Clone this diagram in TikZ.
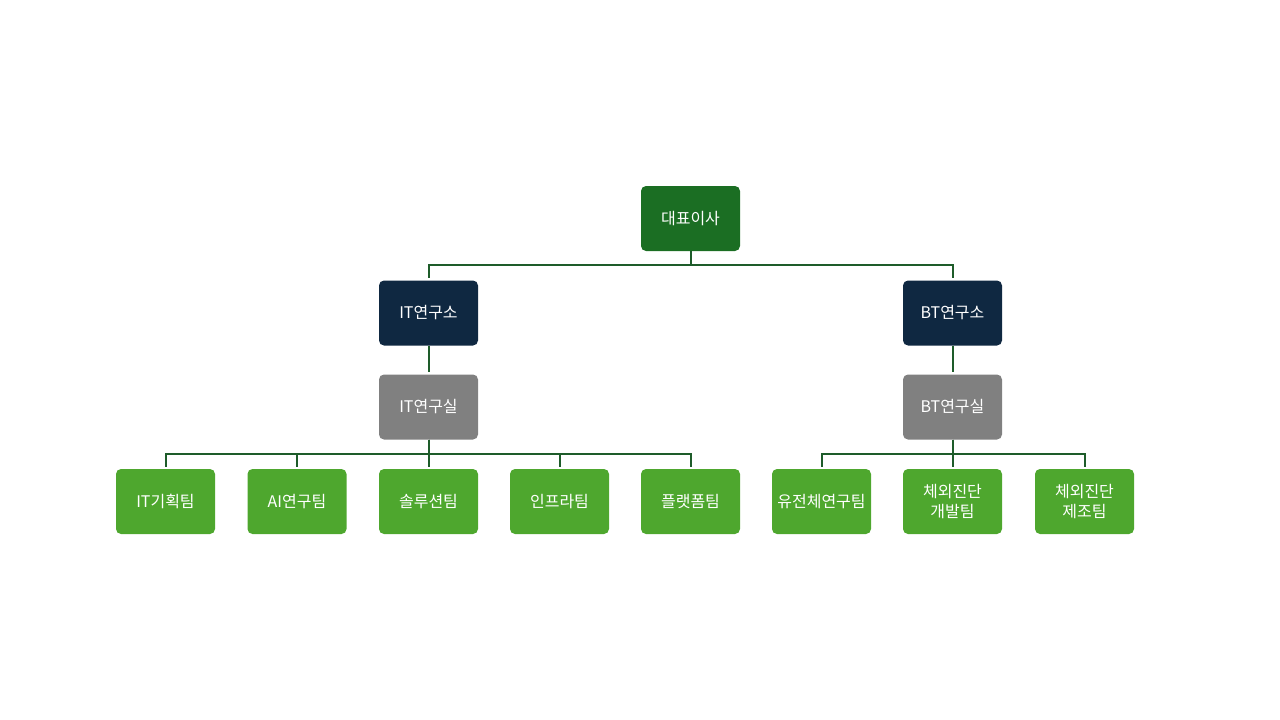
\documentclass[tikz,border=0pt]{standalone}
\usepackage{fontspec}
\setmainfont{Noto Sans CJK KR}
\definecolor{topgreen}{HTML}{1B6E23}
\definecolor{navy}{HTML}{0F2841}
\definecolor{midgray}{HTML}{808080}
\definecolor{leafgreen}{HTML}{4EA72E}
\definecolor{linegreen}{HTML}{1E5C2A}
\tikzset{
  box/.style={rounded corners=5pt, minimum width=99pt, minimum height=65pt, inner sep=2pt,
    text=white, font=\fontsize{16pt}{20pt}\selectfont, align=center},
  topbox/.style={box, fill=topgreen},
  labbox/.style={box, fill=navy},
  roombox/.style={box, fill=midgray},
  teambox/.style={box, fill=leafgreen},
  link/.style={draw=linegreen, line width=2pt, shorten >=2pt}
}
\begin{document}
\begin{tikzpicture}[x=1pt,y=-1pt]
\useasboundingbox (0,0) rectangle (1280,720);
\node[topbox] (ceo) at (690.5,218.5) {대표이사};
\node[labbox] (itlab) at (428.5,313) {IT연구소};
\node[labbox] (btlab) at (952.5,313) {BT연구소};
\node[roombox] (itroom) at (428.5,407) {IT연구실};
\node[roombox] (btroom) at (952.5,407) {BT연구실};
\node[teambox] (t1) at (165.5,501.5) {IT기획팀};
\node[teambox] (t2) at (297,501.5) {AI연구팀};
\node[teambox] (t3) at (428.5,501.5) {솔루션팀};
\node[teambox] (t4) at (559.5,501.5) {인프라팀};
\node[teambox] (t5) at (690.5,501.5) {플랫폼팀};
\node[teambox] (t6) at (821.5,501.5) {유전체연구팀};
\node[teambox] (t7) at (952.5,501.5) {체외진단\\개발팀};
\node[teambox] (t8) at (1084.5,501.5) {체외진단\\제조팀};
\foreach \c in {itlab,btlab}
  \draw[link] (ceo.south) -- ++(0,14) -| (\c.north);
\draw[link] (itlab.south) -- (itroom.north);
\draw[link] (btlab.south) -- (btroom.north);
\foreach \c in {t1,t2,t3,t4,t5}
  \draw[link] (itroom.south) -- ++(0,14) -| (\c.north);
\foreach \c in {t6,t7,t8}
  \draw[link] (btroom.south) -- ++(0,14) -| (\c.north);
\end{tikzpicture}
\end{document}
